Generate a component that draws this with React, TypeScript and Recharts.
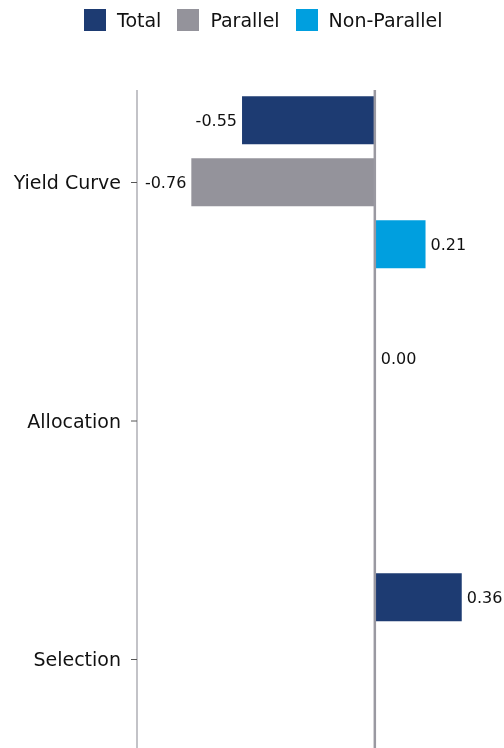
import React from 'react';
import { BarChart, Bar, XAxis, YAxis, ReferenceLine, LabelList, Legend } from 'recharts';

const categories = ['Yield Curve', 'Allocation', 'Selection'];
const totalValues: (number | null)[] = [-0.55, 0.0, 0.36];
const parallelValues: (number | null)[] = [-0.76, null, null];
const nonParallelValues: (number | null)[] = [0.21, null, null];

const seriesNames = ['Total', 'Parallel', 'Non-Parallel'];
const seriesKeys = ['total', 'parallel', 'nonParallel'];
const seriesColors = ['#1d3b72', '#94939b', '#009fdf'];

const data = categories.map((name, i) => ({
  name,
  total: totalValues[i],
  parallel: parallelValues[i],
  nonParallel: nonParallelValues[i],
}));

const FONT = 'DejaVu Sans';

const fmt = (v: any) => (v === null || v === undefined ? '' : Number(v).toFixed(2));

const renderLegend = () => (
  <div
    style={{
      height: 40,
      display: 'flex',
      alignItems: 'center',
      paddingLeft: 84,
      fontFamily: FONT,
      fontSize: 19,
      color: '#111',
    }}
  >
    {seriesNames.map((n, i) => (
      <div key={n} style={{ display: 'flex', alignItems: 'center', marginRight: 16 }}>
        <div style={{ width: 22, height: 22, background: seriesColors[i], marginRight: 11 }} />
        <span>{n}</span>
      </div>
    ))}
  </div>
);

export default function App() {
  return (
    <div style={{ position: 'fixed', left: 0, top: 0 }}>
      <BarChart
        width={504}
        height={748}
        data={data}
        layout="vertical"
        margin={{ top: 50, right: 0, bottom: 0, left: 0 }}
        barSize={48}
        barGap={14}
        style={{ fontFamily: FONT }}
      >
        <Legend
          verticalAlign="top"
          content={renderLegend}
          wrapperStyle={{ top: 0, left: 0, width: 504 }}
        />
        <XAxis type="number" hide domain={[-0.985, 0.535]} />
        <YAxis
          type="category"
          dataKey="name"
          width={137}
          padding={{ top: -26.75, bottom: -30.75 } as any}
          axisLine={{ stroke: '#a3a3aa', strokeWidth: 1.3 }}
          tickLine={{ stroke: '#555' }}
          tickSize={6}
          tickMargin={10}
          tick={{ fontSize: 19, fill: '#111', fontFamily: FONT }}
        />
        {seriesKeys.map((k, i) => (
          <Bar
            key={k}
            dataKey={k}
            name={seriesNames[i]}
            fill={seriesColors[i]}
            isAnimationActive={false}
            minPointSize={k === 'total' ? 1 : 0}
          >
            <LabelList
              dataKey={k}
              position="right"
              offset={5}
              formatter={fmt}
              fill="#111"
              fontSize={16}
              fontFamily={FONT}
            />
          </Bar>
        ))}
        <ReferenceLine x={0} stroke="#9a99a1" strokeWidth={2.5} />
      </BarChart>
    </div>
  );
}
